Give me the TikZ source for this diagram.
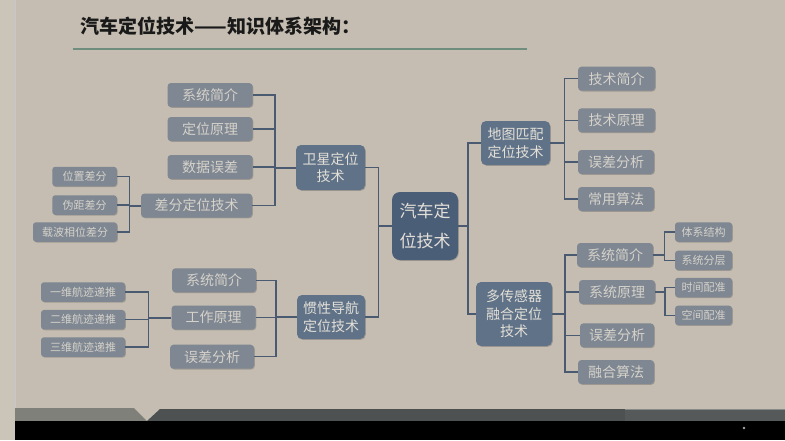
\documentclass[tikz,border=0pt]{standalone}
\usepackage{fontspec}
\newfontfamily\cjk{Noto Sans CJK SC}
\usetikzlibrary{shadows}
\definecolor{bg}{HTML}{C5BDB1}
\definecolor{strip}{HTML}{CAC4B9}
\definecolor{cCtr}{HTML}{4B5E78}
\definecolor{cL1}{HTML}{5F7287}
\definecolor{cL2}{HTML}{7E8792}
\definecolor{cTxt}{HTML}{E4E0D8}
\definecolor{cTxt2}{HTML}{D6D2CA}
\definecolor{cWire}{HTML}{4A5A70}
\definecolor{cRule}{HTML}{6F8E7D}
\definecolor{cBandA}{HTML}{80807A}
\definecolor{cBandB}{HTML}{4D5152}
\definecolor{cBandC}{HTML}{55595A}
\begin{document}
\begin{tikzpicture}[x=1pt,y=-1pt,
  boxshadow/.style={drop shadow={shadow xshift=0.8pt,shadow yshift=-0.8pt,fill=black,opacity=0.18}},
  ctrbox/.style={fill=cCtr,rounded corners=8pt,text=cTxt,font=\cjk\fontsize{17}{30}\selectfont,align=center,inner sep=0pt,boxshadow},
  lonebox/.style={fill=cL1,rounded corners=5pt,text=cTxt,font=\cjk\fontsize{14}{17.5}\selectfont,align=center,inner sep=0pt,boxshadow},
  ltwobox/.style={fill=cL2,rounded corners=3.5pt,text=cTxt2,font=\cjk\fontsize{14}{17}\selectfont,inner sep=0pt,minimum height=24pt,boxshadow},
  lthreebox/.style={fill=cL2,rounded corners=3pt,text=cTxt2,font=\cjk\fontsize{11}{13}\selectfont,inner sep=0pt,minimum height=19.5pt,boxshadow},
  wire/.style={draw=cWire,line width=1.3pt},
  trunk/.style={draw=cWire,line width=2pt}]
\useasboundingbox (0,0) rectangle (785,440);
% background
\fill[bg] (0,0) rectangle (785,440);
\fill[strip] (0,0) rectangle (15,440);
\draw[color=black!22,line width=0.6pt] (15,0) -- (15,408);
% bottom bands
\fill[cBandA] (15,408) -- (134,408) -- (147,421) -- (15,421) -- cycle;
\fill[cBandB] (147,421) -- (160,409) -- (785,409) -- (785,421) -- cycle;
\fill[cBandC] (625,409) rectangle (785,420.5);
\draw[color=cBandC!70!white,line width=0.5pt] (625,409.3) -- (785,409.3);
\fill[black] (15,421) rectangle (785,440);
\fill[gray!70] (744,428) circle (1.3);
% title
\node[anchor=west,font=\cjk\bfseries\fontsize{19}{19}\selectfont,text=black!90] (title) at (77,26) {汽车定位技术——知识体系架构：};
\draw[color=cRule,line width=2pt] (73,48.5) -- (527,48.5);

% nodes
\node[ctrbox,minimum width=66pt,minimum height=68pt] (ctr) at (425,226) {汽车定\\位技术};
\node[lonebox,minimum width=69pt,minimum height=44pt] (map) at (515.5,143) {地图匹配\\定位技术};
\node[lonebox,minimum width=76pt,minimum height=64pt] (mul) at (514,314) {多传感器\\融合定位\\技术};
\node[lonebox,minimum width=69pt,minimum height=45pt] (sat) at (330.5,167.5) {卫星定位\\技术};
\node[lonebox,minimum width=68pt,minimum height=44pt] (ine) at (331,317) {惯性导航\\定位技术};

\node[ltwobox,minimum width=85pt] (s1) at (210,95) {系统简介};
\node[ltwobox,minimum width=85pt] (s2) at (210,129) {定位原理};
\node[ltwobox,minimum width=85pt] (s3) at (210,167) {数据误差};
\node[ltwobox,minimum width=111pt] (s4) at (196.5,205.5) {差分定位技术};
\node[lthreebox,minimum width=64.5pt] (d1) at (84.5,176.5) {位置差分};
\node[lthreebox,minimum width=64.5pt] (d2) at (84.5,205) {伪距差分};
\node[lthreebox,minimum width=84pt] (d3) at (75,232) {载波相位差分};

\node[ltwobox,minimum width=84pt] (i1) at (214,280.3) {系统简介};
\node[ltwobox,minimum width=84pt] (i2) at (213.5,317.5) {工作原理};
\node[ltwobox,minimum width=84pt] (i3) at (212,356.7) {误差分析};
\node[lthreebox,minimum width=84pt] (w1) at (83,292) {一维航迹递推};
\node[lthreebox,minimum width=84pt] (w2) at (83,319.7) {二维航迹递推};
\node[lthreebox,minimum width=84pt] (w3) at (83,347) {三维航迹递推};

\node[ltwobox,minimum width=77pt] (m1) at (616.5,78.7) {技术简介};
\node[ltwobox,minimum width=77pt] (m2) at (616.5,120.3) {技术原理};
\node[ltwobox,minimum width=76pt] (m3) at (616,162) {误差分析};
\node[ltwobox,minimum width=76pt] (m4) at (616,199) {常用算法};

\node[ltwobox,minimum width=76pt] (f1) at (615,255) {系统简介};
\node[ltwobox,minimum width=76pt] (f2) at (617,292) {系统原理};
\node[ltwobox,minimum width=74pt] (f3) at (617,335.3) {误差分析};
\node[ltwobox,minimum width=76pt] (f4) at (616,372) {融合算法};
\node[lthreebox,minimum width=57pt] (g1) at (703.5,232) {体系结构};
\node[lthreebox,minimum width=57pt] (g2) at (703.5,260.4) {系统分层};
\node[lthreebox,minimum width=57pt] (g3) at (703.5,287.5) {时间配准};
\node[lthreebox,minimum width=57pt] (g4) at (703.5,315.4) {空间配准};

% bus coordinates
\coordinate (bL) at (378.3,0);
\coordinate (bR) at (468,0);
\coordinate (bS) at (275,0);
\coordinate (bD) at (129.3,0);
\coordinate (bI) at (276,0);
\coordinate (bW) at (148.3,0);
\coordinate (bM) at (564.3,0);
\coordinate (bF) at (565,0);
\coordinate (bFa) at (664.3,0);
\coordinate (bFb) at (665,0);

% connectors
\draw[trunk] (ctr.west) -- (ctr.west -| bL);
\draw[wire] (ctr.west -| bL) |- (sat.east);
\draw[wire] (ctr.west -| bL) |- (ine.east);
\draw[trunk] (ctr.east) -- (ctr.east -| bR);
\draw[wire] (ctr.east -| bR) |- (map.west);
\draw[wire] (ctr.east -| bR) |- (mul.west);

\draw[trunk] (sat.west) -- (sat.west -| bS);
\foreach \c in {s1,s2,s3,s4} \draw[wire] (sat.west -| bS) |- (\c.east);
\draw[trunk] (s4.west) -- (s4.west -| bD);
\foreach \c in {d1,d2,d3} \draw[wire] (s4.west -| bD) |- (\c.east);

\draw[trunk] (ine.west) -- (ine.west -| bI);
\foreach \c in {i1,i2,i3} \draw[wire] (ine.west -| bI) |- (\c.east);
\draw[trunk] (i2.west) -- (i2.west -| bW);
\foreach \c in {w1,w2,w3} \draw[wire] (i2.west -| bW) |- (\c.east);

\draw[trunk] (map.east) -- (map.east -| bM);
\foreach \c in {m1,m2,m3,m4} \draw[wire] (map.east -| bM) |- (\c.west);

\draw[trunk] (mul.east) -- (mul.east -| bF);
\foreach \c in {f1,f2,f3,f4} \draw[wire] (mul.east -| bF) |- (\c.west);
\draw[trunk] (f1.east) -- (f1.east -| bFa);
\foreach \c in {g1,g2} \draw[wire] (f1.east -| bFa) |- (\c.west);
\draw[trunk] (f2.east) -- (f2.east -| bFb);
\foreach \c in {g3,g4} \draw[wire] (f2.east -| bFb) |- (\c.west);
\end{tikzpicture}
\end{document}
